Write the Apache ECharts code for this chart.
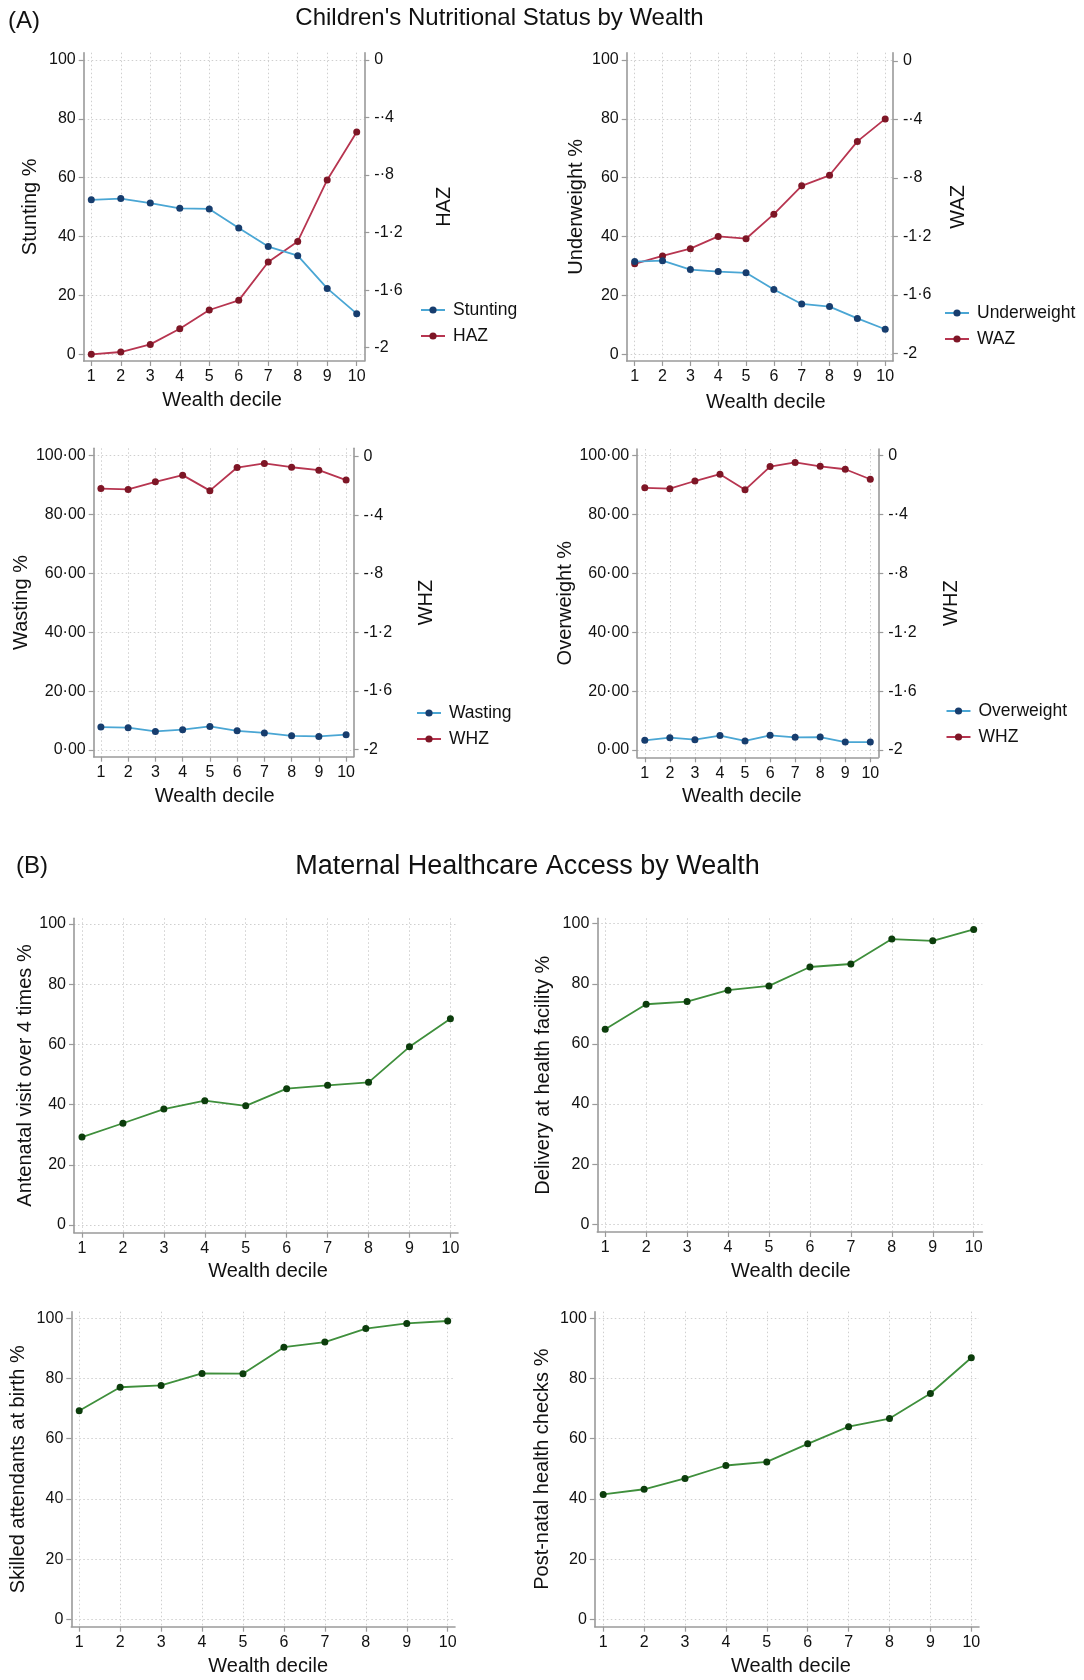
<!DOCTYPE html>
<html><head><meta charset="utf-8">
<script src="https://cdn.jsdelivr.net/npm/echarts@6/dist/echarts.min.js"></script>
<style>html,body{margin:0;padding:0;background:#fff}#c{width:1084px;height:1680px}</style>
</head><body><div id="c"></div>
<script>
// ---------- data ----------
const deciles = [1, 2, 3, 4, 5, 6, 7, 8, 9, 10];
const stunting = [52.5, 52.9, 51.4, 49.6, 49.4, 42.9, 36.6, 33.5, 22.4, 13.8];
const haz = [-2.046, -2.03, -1.977, -1.868, -1.738, -1.671, -1.404, -1.261, -0.834, -0.501];
const underweight = [31.5, 31.8, 28.8, 28.1, 27.7, 22.0, 17.1, 16.2, 12.2, 8.5];
const waz = [-1.388, -1.334, -1.284, -1.200, -1.216, -1.048, -0.854, -0.782, -0.550, -0.396];
const wasting = [7.8, 7.6, 6.3, 6.9, 8.0, 6.5, 5.8, 4.8, 4.6, 5.2];
const whz = [-0.218, -0.224, -0.172, -0.126, -0.232, -0.074, -0.046, -0.072, -0.092, -0.160];
const overweight = [3.3, 4.2, 3.5, 4.9, 3.1, 5.0, 4.3, 4.4, 2.7, 2.7];
const antenatal = [29.2, 33.8, 38.5, 41.3, 39.6, 45.3, 46.4, 47.4, 59.2, 68.5];
const delivery = [64.9, 73.2, 74.1, 77.9, 79.3, 85.6, 86.6, 94.9, 94.3, 98.1];
const skilled = [69.3, 77.1, 77.7, 81.7, 81.6, 90.4, 92.1, 96.6, 98.3, 99.1];
const postnatal = [41.5, 43.2, 46.8, 51.1, 52.3, 58.3, 64.0, 66.7, 75.0, 86.9];

const pctTicks = [0, 20, 40, 60, 80, 100];
const zTicks = [-2, -1.6, -1.2, -0.8, -0.4, 0];

// ---------- styles ----------
const FONT = '"Liberation Sans", Arial, Helvetica, sans-serif';
const TXT = '#111111';
const AXIS = '#9a9a9a';
const GRIDC = '#cfcfcf';
const BLUE_L = '#4aa6d4', BLUE_M = '#173d6e';
const RED_L = '#b73550', RED_M = '#7e1626';
const GRN_L = '#3f8f3c', GRN_M = '#0c3d0c';

function zLabel(v) {
  if (Math.abs(v) < 1e-9) return '0';
  if (Number.isInteger(v)) return String(v);
  let s = Math.abs(v).toFixed(1);
  if (s.startsWith('0')) s = s.slice(1);
  return (v < 0 ? '-' : '') + s.replace('.', '\u00b7');
}
const pctLabel = v => String(v);
const pct2Label = v => v + '\u00b700';

const grids = [], xAxes = [], yAxes = [], series = [], legends = [];

function addPanel(g) {
  const gi = grids.length;
  grids.push({ left: g.l, top: g.t, width: g.r - g.l, height: g.b - g.t, containLabel: false });
  const xPer = (g.x10 - g.x1) / 9;
  const yPer = (g.y0 - g.y100) / 100;
  const xi = xAxes.length;
  const xs = g.xShift || 0;
  xAxes.push({
    type: 'value', gridIndex: gi,
    min: 1 - (g.x1 - g.l) / xPer, max: 10 + (g.r - g.x10) / xPer,
    name: 'Wealth decile', nameLocation: 'middle', nameGap: g.xGap,
    nameTextStyle: { fontFamily: FONT, fontSize: 20, color: TXT,
      padding: xs >= 0 ? [0, 0, 0, 2 * xs] : [0, -2 * xs, 0, 0] },
    axisLine: { show: true, onZero: false, lineStyle: { color: AXIS, width: 1.6 } },
    axisTick: { show: true, length: 5, customValues: deciles, lineStyle: { color: AXIS, width: 1.2 } },
    axisLabel: { customValues: deciles, fontFamily: FONT, fontSize: 16, color: TXT, margin: 8 },
    splitLine: { show: true, lineStyle: { color: GRIDC, type: [1.5, 2.5], width: 1 } }
  });
  const yl = yAxes.length;
  yAxes.push({
    type: 'value', gridIndex: gi, position: 'left',
    min: -(g.b - g.y0) / yPer, max: 100 + (g.y100 - g.t) / yPer,
    name: g.yName, nameLocation: 'middle', nameGap: g.yGap, nameRotate: 90,
    nameTextStyle: { fontFamily: FONT, fontSize: 20, color: TXT },
    axisLine: { show: true, onZero: false, lineStyle: { color: AXIS, width: 1.6 } },
    axisTick: { show: true, length: 5, customValues: pctTicks, lineStyle: { color: AXIS, width: 1.2 } },
    axisLabel: { customValues: pctTicks, formatter: g.pctFmt || pctLabel, fontFamily: FONT, fontSize: 16, color: TXT, margin: 8 },
    splitLine: { show: true, lineStyle: { color: GRIDC, type: [1.5, 2.5], width: 1 } }
  });
  let yr = null;
  if (g.zName) {
    yr = yAxes.length;
    const zPer = (g.zm2 - g.z0) / 2;
    yAxes.push({
      type: 'value', gridIndex: gi, position: 'right',
      min: -2 - (g.b - g.zm2) / zPer, max: (g.z0 - g.t) / zPer,
      name: g.zName, nameLocation: 'middle', nameGap: g.zGap, nameRotate: 90,
      nameTextStyle: { fontFamily: FONT, fontSize: 20, color: TXT },
      axisLine: { show: true, onZero: false, lineStyle: { color: AXIS, width: 1.6 } },
      axisTick: { show: true, length: 5, customValues: zTicks, lineStyle: { color: AXIS, width: 1.2 } },
      axisLabel: { customValues: zTicks, formatter: zLabel, fontFamily: FONT, fontSize: 16, color: TXT, margin: 10 },
      splitLine: { show: false }
    });
  }
  g.lines.forEach(ln => {
    series.push({
      type: 'line', name: ln.name, xAxisIndex: xi, yAxisIndex: ln.right ? yr : yl,
      data: deciles.map((d, i) => [d, ln.values[i]]),
      symbol: 'circle', symbolSize: 7, showSymbol: true,
      lineStyle: { color: ln.line, width: 1.8 },
      itemStyle: { color: ln.marker },
      z: ln.right ? 3 : 4
    });
  });
  if (g.legend) {
    legends.push({
      data: g.lines.map(l => l.name), orient: 'vertical',
      left: g.legend.left, top: g.legend.top,
      itemWidth: 24, itemHeight: 9, itemGap: 6,
      textStyle: { fontFamily: FONT, fontSize: 17.5, color: TXT, lineHeight: 20, padding: [0, 0, 0, 3] },
      selectedMode: false
    });
  }
}

// ---------- panels (A) ----------
addPanel({ l: 83.7, t: 52.7, r: 364.3, b: 361, x1: 91.3, x10: 356.7, y100: 60, y0: 354.3, z0: 60, zm2: 347.7,
  yName: 'Stunting %', yGap: 43, zName: 'HAZ', zGap: 70, xGap: 29, xShift: -2,
  legend: { left: 415, top: 295 },
  lines: [{ name: 'Stunting', values: stunting, line: BLUE_L, marker: BLUE_M },
          { name: 'HAZ', values: haz, right: true, line: RED_L, marker: RED_M }] });
addPanel({ l: 626.7, t: 52.7, r: 892.9, b: 361, x1: 634.7, x10: 885.2, y100: 60, y0: 354.3, z0: 61, zm2: 353.3,
  yName: 'Underweight %', yGap: 40, zName: 'WAZ', zGap: 56, xGap: 31, xShift: 6,
  legend: { left: 939, top: 298 },
  lines: [{ name: 'Underweight', values: underweight, line: BLUE_L, marker: BLUE_M },
          { name: 'WAZ', values: waz, right: true, line: RED_L, marker: RED_M }] });
addPanel({ l: 93.7, t: 448.3, r: 353.6, b: 756.7, x1: 100.9, x10: 346.1, y100: 455.7, y0: 750, z0: 456.7, zm2: 749.3,
  yName: 'Wasting %', yGap: 56, zName: 'WHZ', zGap: 63, xGap: 30, xShift: -9, pctFmt: pct2Label,
  legend: { left: 411, top: 698 },
  lines: [{ name: 'Wasting', values: wasting, line: BLUE_L, marker: BLUE_M },
          { name: 'WHZ', values: whz, right: true, line: RED_L, marker: RED_M }] });
addPanel({ l: 637.2, t: 449, r: 878.3, b: 757.3, x1: 644.8, x10: 870.3, y100: 455.7, y0: 750, z0: 455.7, zm2: 750,
  yName: 'Overweight %', yGap: 62, zName: 'WHZ', zGap: 63, xGap: 29.5, xShift: -16, pctFmt: pct2Label,
  legend: { left: 940.5, top: 696 },
  lines: [{ name: 'Overweight', values: overweight, line: BLUE_L, marker: BLUE_M },
          { name: 'WHZ', values: whz, right: true, line: RED_L, marker: RED_M }] });

// ---------- panels (B) ----------
addPanel({ l: 74, t: 918.3, r: 458, b: 1232.7, x1: 82, x10: 450.4, y100: 924, y0: 1225,
  yName: 'Antenatal visit over 4 times %', yGap: 38, xGap: 28.5, xShift: 2,
  lines: [{ name: 'Antenatal visit over 4 times', values: antenatal, line: GRN_L, marker: GRN_M }] });
addPanel({ l: 597.3, t: 918.3, r: 982.4, b: 1232, x1: 605.2, x10: 973.7, y100: 923.7, y0: 1224.3,
  yName: 'Delivery at health facility %', yGap: 44, xGap: 29, xShift: 1,
  lines: [{ name: 'Delivery at health facility', values: delivery, line: GRN_L, marker: GRN_M }] });
addPanel({ l: 71.3, t: 1311.7, r: 455, b: 1626.7, x1: 79.2, x10: 447.7, y100: 1318.3, y0: 1619.3,
  yName: 'Skilled attendants at birth %', yGap: 43, xGap: 29.5, xShift: 5,
  lines: [{ name: 'Skilled attendants at birth', values: skilled, line: GRN_L, marker: GRN_M }] });
addPanel({ l: 594.8, t: 1311.7, r: 979, b: 1626.7, x1: 603.2, x10: 971.3, y100: 1318.3, y0: 1619.3,
  yName: 'Post-natal health checks %', yGap: 42, xGap: 29.5, xShift: 4,
  lines: [{ name: 'Post-natal health checks', values: postnatal, line: GRN_L, marker: GRN_M }] });

const chart = echarts.init(document.getElementById('c'), null, { renderer: 'canvas' });
chart.setOption({
  backgroundColor: '#ffffff',
  animation: false,
  textStyle: { fontFamily: FONT },
  grid: grids, xAxis: xAxes, yAxis: yAxes, series: series, legend: legends,
  graphic: [
    { type: 'text', x: 8, y: 21.7, style: { text: '(A)', fontFamily: FONT, fontSize: 24, fill: TXT, align: 'left', verticalAlign: 'middle' } },
    { type: 'text', x: 499.5, y: 18.3, style: { text: "Children's Nutritional Status by Wealth", fontFamily: FONT, fontSize: 24, fill: TXT, align: 'center', verticalAlign: 'middle' } },
    { type: 'text', x: 16, y: 866.7, style: { text: '(B)', fontFamily: FONT, fontSize: 24, fill: TXT, align: 'left', verticalAlign: 'middle' } },
    { type: 'text', x: 527.5, y: 866.7, style: { text: 'Maternal Healthcare Access by Wealth', fontFamily: FONT, fontSize: 27, fill: TXT, align: 'center', verticalAlign: 'middle' } }
  ]
});
</script></body></html>
